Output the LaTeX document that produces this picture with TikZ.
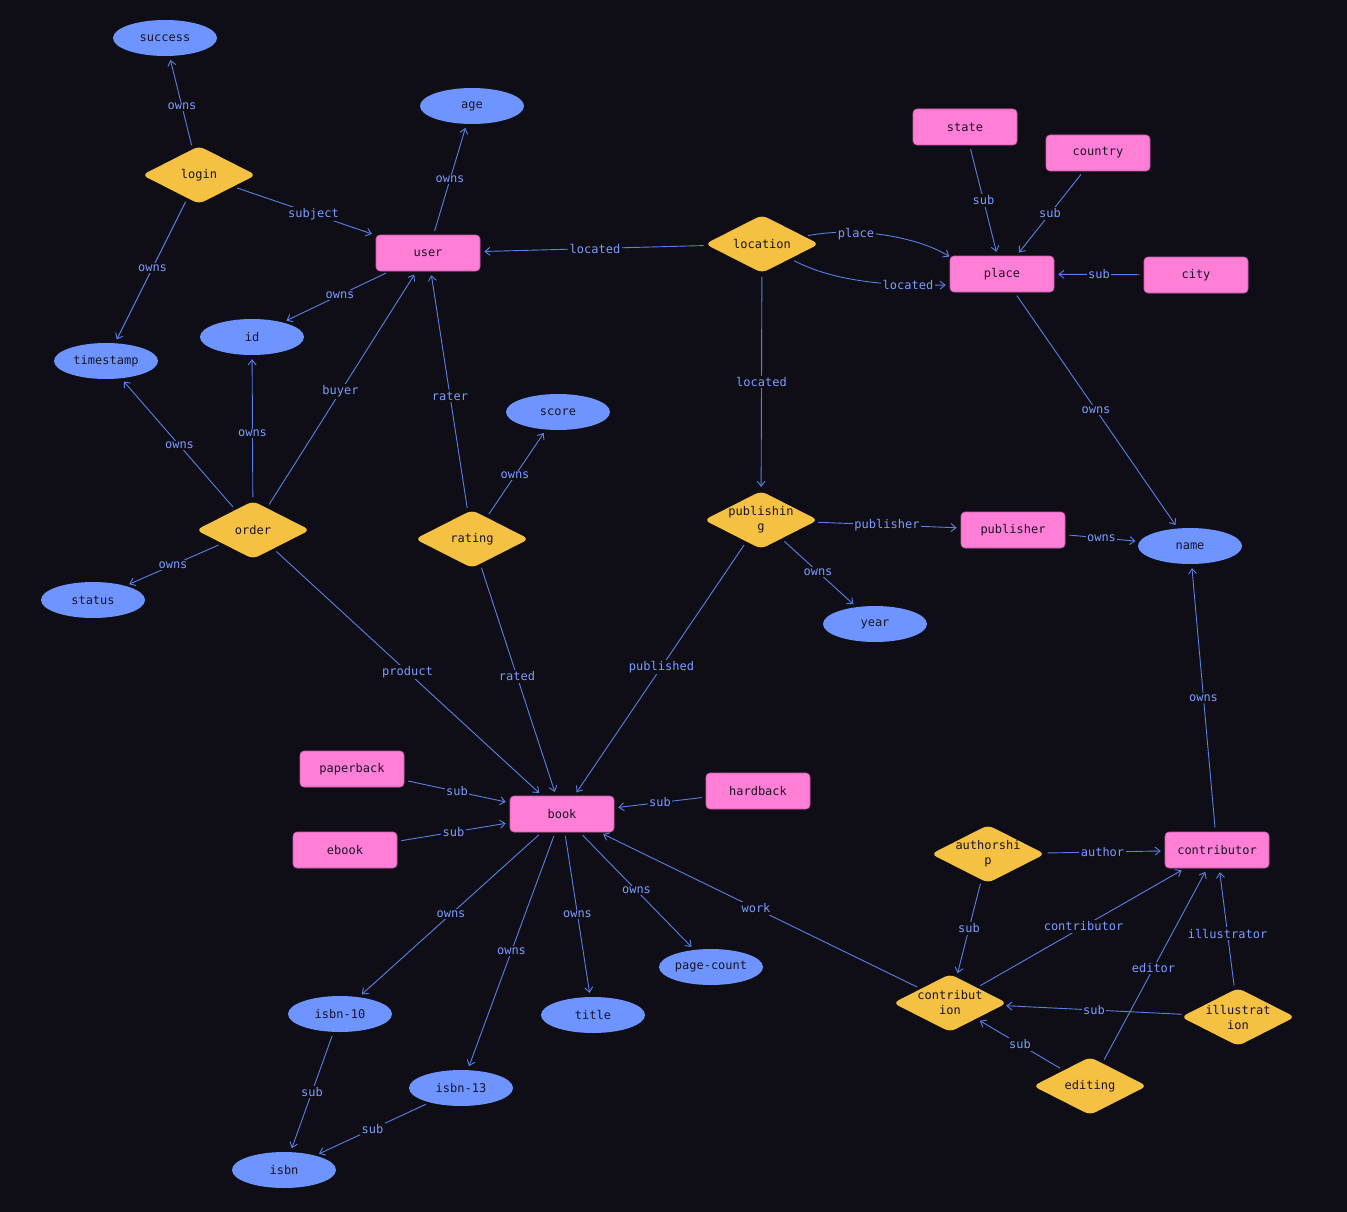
\documentclass[tikz,border=0pt]{standalone}
\usepackage{fontspec}
\setmonofont{DejaVu Sans Mono}
\usetikzlibrary{shapes.geometric,arrows.meta,calc}

\definecolor{bg}{HTML}{0F0E17}
\definecolor{entfill}{HTML}{FF7FD6}
\definecolor{entedge}{HTML}{C85AA8}
\definecolor{attrfill}{HTML}{6E95FF}
\definecolor{relfill}{HTML}{F5C142}
\definecolor{ink}{HTML}{1A1428}
\definecolor{wire}{HTML}{5A80E6}
\definecolor{wiretext}{HTML}{7C9CFF}

\newcommand\erlink[3]{%
  \draw[link] (#1) -- (#2);
  \node[lbl] at ($(#1)!0.5!(#2)$) {#3};}

\begin{document}
\begin{tikzpicture}[x=1pt,y=-1pt,
  font=\ttfamily\fontsize{12}{15}\selectfont,
  entity/.style={rectangle, rounded corners=4pt, fill=entfill, draw=entedge,
    line width=0.6pt, minimum width=104pt, minimum height=36pt, text=ink},
  attr/.style={ellipse, fill=attrfill, minimum width=104pt, minimum height=36pt,
    inner sep=0pt, text=ink},
  rel/.style={diamond, fill=relfill, rounded corners=6pt, minimum width=114pt,
    minimum height=58pt, inner xsep=-12pt, inner ysep=-10pt, text=ink, align=center},
  link/.style={draw=wire, line width=0.9pt, -{Straight Barb[length=5pt,width=8pt]},
    shorten >=4pt, shorten <=4pt},
  lbl/.style={fill=bg, text=wiretext, inner sep=1.5pt}]

\fill[bg] (0,0) rectangle (1347,1212);
\useasboundingbox (0,0) rectangle (1347,1212);

% entities
\node[entity] (user) at (428,253) {user};
\node[entity] (state) at (965,127) {state};
\node[entity] (country) at (1098,153) {country};
\node[entity] (place) at (1002,274) {place};
\node[entity] (city) at (1196,275) {city};
\node[entity] (publisher) at (1013,530) {publisher};
\node[entity] (paperback) at (352,769) {paperback};
\node[entity] (book) at (562,814) {book};
\node[entity] (hardback) at (758,791) {hardback};
\node[entity] (ebook) at (345,850) {ebook};
\node[entity] (contributor) at (1217,850) {contributor};

% attributes
\node[attr] (success) at (165,38) {success};
\node[attr] (age) at (472,106) {age};
\node[attr] (timestamp) at (106,361) {timestamp};
\node[attr] (id) at (252,337) {id};
\node[attr] (score) at (558,412) {score};
\node[attr] (status) at (93,600) {status};
\node[attr] (name) at (1190,546) {name};
\node[attr] (year) at (875,624) {year};
\node[attr] (pagecount) at (711,967) {page-count};
\node[attr] (title) at (593,1015) {title};
\node[attr] (isbnten) at (340,1014) {isbn-10};
\node[attr] (isbnthirteen) at (461,1088) {isbn-13};
\node[attr] (isbn) at (284,1170) {isbn};

% relationships
\node[rel] (login) at (199,175) {login};
\node[rel] (location) at (762,244) {location};
\node[rel] (order) at (253,530) {order};
\node[rel] (rating) at (472,539) {rating};
\node[rel] (publishing) at (761,520) {publishin\\g};
\node[rel] (authorship) at (988,854) {authorshi\\p};
\node[rel] (contribution) at (950,1003) {contribut\\ion};
\node[rel] (illustration) at (1238,1017) {illustrat\\ion};
\node[rel] (editing) at (1090,1086) {editing};

% connectors
\erlink{login}{success}{owns}
\erlink{login}{user}{subject}
\erlink{login}{timestamp}{owns}
\erlink{user}{age}{owns}
\erlink{user}{id}{owns}
\erlink{location}{user}{located}
\erlink{location}{publishing}{located}
\erlink{state}{place}{sub}
\erlink{country}{place}{sub}
\erlink{city}{place}{sub}
\erlink{place}{name}{owns}
\erlink{order}{timestamp}{owns}
\erlink{order}{id}{owns}
\erlink{order}{user}{buyer}
\erlink{order}{status}{owns}
\erlink{order}{book}{product}
\erlink{rating}{user}{rater}
\erlink{rating}{score}{owns}
\erlink{rating}{book}{rated}
\erlink{publishing}{publisher}{publisher}
\erlink{publishing}{year}{owns}
\erlink{publishing}{book}{published}
\erlink{publisher}{name}{owns}
\erlink{paperback}{book}{sub}
\erlink{ebook}{book}{sub}
\erlink{hardback}{book}{sub}
\erlink{book}{isbnten}{owns}
\erlink{book}{isbnthirteen}{owns}
\erlink{book}{title}{owns}
\erlink{book}{pagecount}{owns}
\erlink{contribution}{book}{work}
\erlink{isbnten}{isbn}{sub}
\erlink{isbnthirteen}{isbn}{sub}
\erlink{authorship}{contributor}{author}
\erlink{authorship}{contribution}{sub}
\erlink{contribution}{contributor}{contributor}
\erlink{illustration}{contributor}{illustrator}
\erlink{illustration}{contribution}{sub}
\erlink{editing}{contribution}{sub}
\erlink{editing}{contributor}{editor}
\erlink{contributor}{name}{owns}

% the two curved location-place connectors
\coordinate (placeupper) at ([xshift=3pt,yshift=-3pt]place.north west);
\coordinate (placelower) at ($(place.west)!0.6!(place.south west)$);
\draw[link] (location) .. controls (860,226) and (920,238) .. (placeupper);
\node[lbl] at (856,234) {place};
\draw[link] (location) .. controls (835,282) and (890,286) .. (placelower);
\node[lbl] at (908,285) {located};

\end{tikzpicture}
\end{document}
